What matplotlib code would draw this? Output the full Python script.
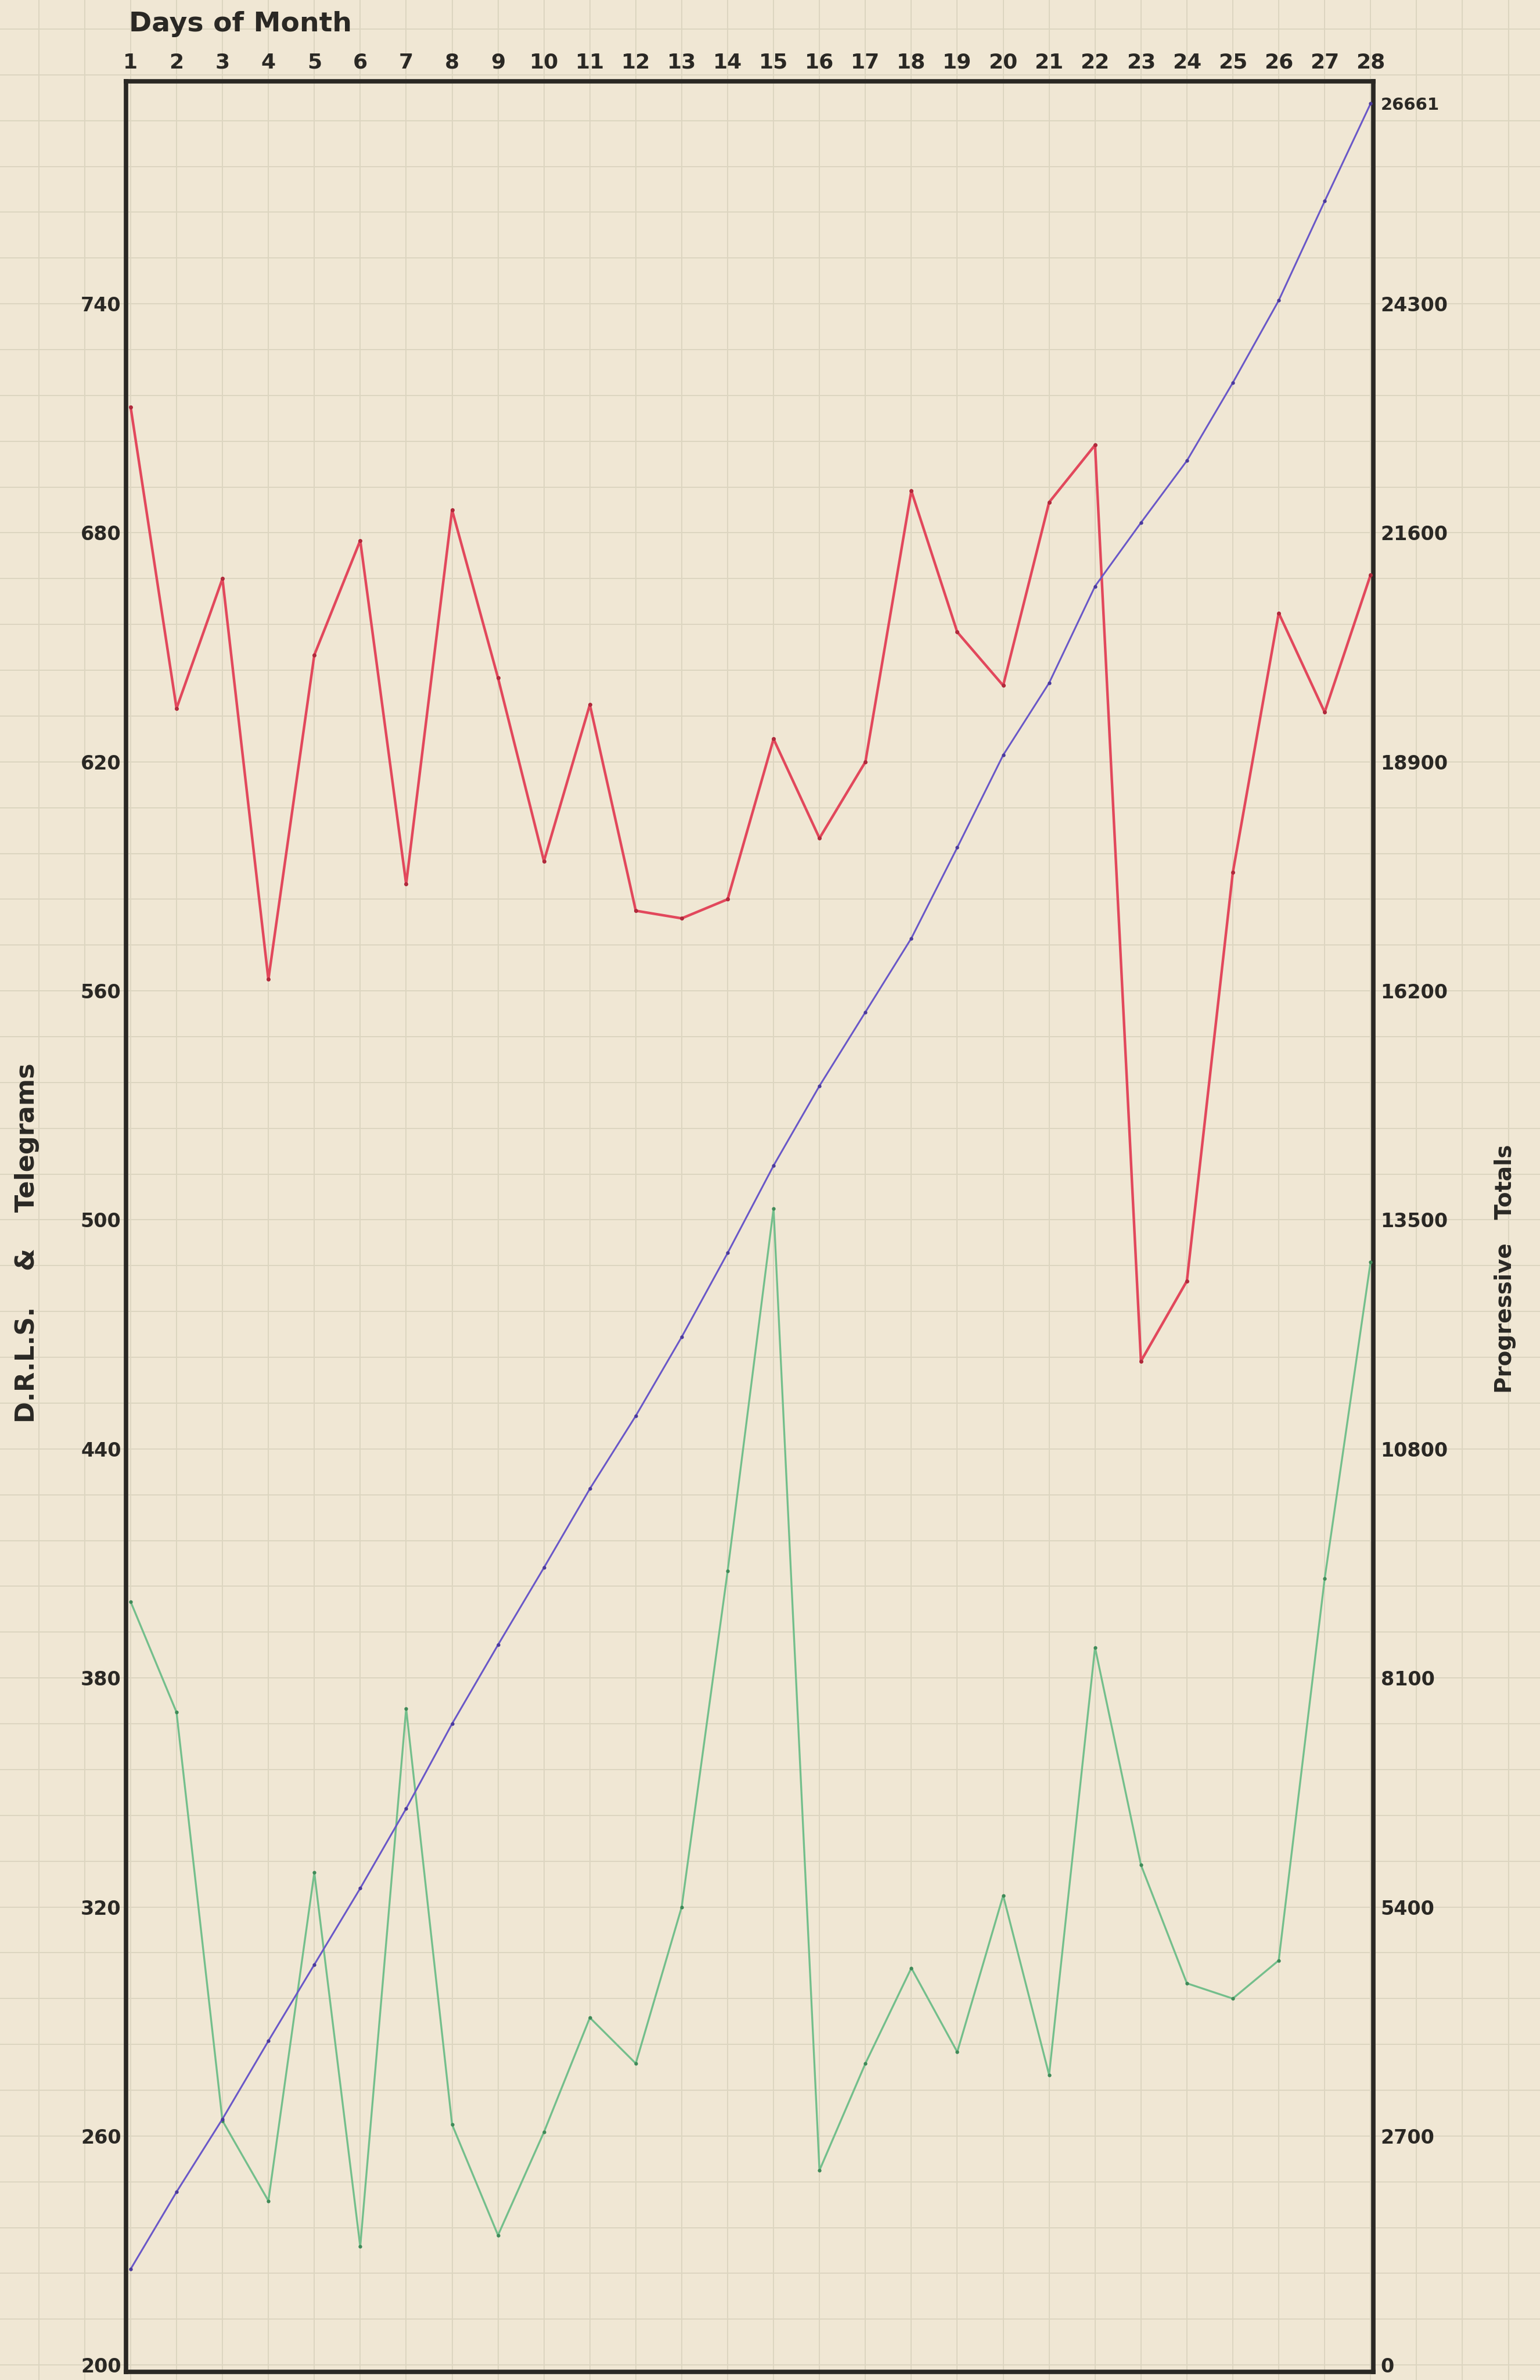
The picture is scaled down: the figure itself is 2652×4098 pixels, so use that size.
#!/usr/bin/env python3
"""Hand-drawn monthly traffic graph on squared paper."""

import matplotlib.pyplot as plt
import numpy as np

# data read from the sheet
days = list(range(1, 29))
drls = [713, 634, 668, 563, 648, 678, 588, 686, 642, 594, 635, 581, 579, 584,
        626, 600, 620, 691, 654, 640, 688, 703, 463, 484, 591, 659, 633, 669]
telegrams = [400, 371, 264, 243, 329, 231, 372, 263, 234, 261, 291, 279, 320, 408,
             503, 251, 279, 304, 282, 323, 276, 388, 331, 300, 296, 306, 406, 489]
progressive = [1130, 2040, 2900, 3820, 4720, 5620, 6560, 7560, 8490, 9400,
               10330, 11190, 12120, 13110, 14140, 15080, 15950, 16820, 17890,
               18980, 19830, 20970, 21720, 22450, 23370, 24340, 25510, 26661]
left_ticks = [200, 260, 320, 380, 440, 500, 560, 620, 680, 740]
right_ticks = [0, 2700, 5400, 8100, 10800, 13500, 16200, 18900, 21600, 24300, 26661]

PAPER = "#f0e7d4"
GRID = "#dcd5c0"
INK = "#2a2824"
RED = "#e2485c"
GREEN = "#74bf8c"
BLUE = "#6a58c8"

W, H = 2652, 4098
x_lim = (0.9, 28.06)
y_lim = (198.2, 798.3)
ratio = 45.0  # progressive units per left unit
base = 200.0

fig = plt.figure(figsize=(W / 100, H / 100), dpi=100)
fig.patch.set_facecolor(PAPER)

left, right, top, bottom = 217, 2365, 140, 4084
rect = [left / W, 1 - bottom / H, (right - left) / W, (bottom - top) / H]

# squared paper behind everything, in the same units as the chart
bg = fig.add_axes([0, 0, 1, 1], zorder=0)
bg.set_facecolor(PAPER)
sx = (x_lim[1] - x_lim[0]) / rect[2]
sy = (y_lim[1] - y_lim[0]) / rect[3]
bx = (x_lim[0] - rect[0] * sx, x_lim[1] + (1 - rect[0] - rect[2]) * sx)
by = (y_lim[0] - rect[1] * sy, y_lim[1] + (1 - rect[1] - rect[3]) * sy)
bg.set_xlim(bx)
bg.set_ylim(by)
for gx in np.arange(np.ceil(bx[0]), bx[1] + 1, 1):
    bg.axvline(gx, color=GRID, lw=1.4, zorder=0)
for gy in np.arange(base - 12 * np.ceil((base - by[0]) / 12), by[1] + 12, 12):
    bg.axhline(gy, color=GRID, lw=1.4, zorder=0)
bg.axis("off")

ax = fig.add_axes(rect, zorder=1)
ax.patch.set_alpha(0)
ax.plot(days, drls, color=RED, lw=3.2, marker="o", ms=4,
        mfc="#b02a3c", mec="#b02a3c", zorder=3)
ax.plot(days, telegrams, color=GREEN, lw=2.4, marker="o", ms=3.5,
        mfc="#3f8a58", mec="#3f8a58", zorder=3)
ax.set_xlim(x_lim)
ax.set_ylim(y_lim)

ax.xaxis.tick_top()
ax.set_xticks(days)
ax.set_xticklabels([str(d) for d in days])
ax.tick_params(axis="x", length=0, pad=11, labelsize=26, colors=INK)
ax.set_yticks(left_ticks)
ax.tick_params(axis="y", length=0, pad=6, labelsize=24, colors=INK)
for lab in ax.get_xticklabels() + ax.get_yticklabels():
    lab.set_fontweight("bold")
for s in ax.spines.values():
    s.set_linewidth(5.5)
    s.set_color(INK)

ax2 = ax.twinx()
ax2.plot(days, progressive, color=BLUE, lw=2.2, marker="o", ms=3.5,
         mfc="#4a3a9c", mec="#4a3a9c", zorder=3)
ax2.set_ylim((y_lim[0] - base) * ratio, (y_lim[1] - base) * ratio)
ax2.set_yticks(right_ticks)
ax2.set_yticklabels([str(t) for t in right_ticks])
ax2.tick_params(axis="y", length=0, pad=9, labelsize=24, colors=INK)
for lab in ax2.get_yticklabels():
    lab.set_fontweight("bold")
ax2.get_yticklabels()[-1].set_fontsize(21)
for s in ax2.spines.values():
    s.set_visible(False)

fig.text(222 / W, 1 - 42 / H, "Days of Month", fontsize=34, color=INK,
         fontweight="bold", ha="left", va="center")
fig.text(47 / W, 1 - 2140 / H, "D.R.L.S.    &    Telegrams", fontsize=32,
         color=INK, fontweight="bold", rotation=90, ha="center", va="center")
fig.text(2592 / W, 1 - 2185 / H, "Progressive   Totals", fontsize=28,
         color=INK, fontweight="bold", rotation=90, ha="center", va="center")

fig.savefig("out.png", dpi=100, facecolor=PAPER)
